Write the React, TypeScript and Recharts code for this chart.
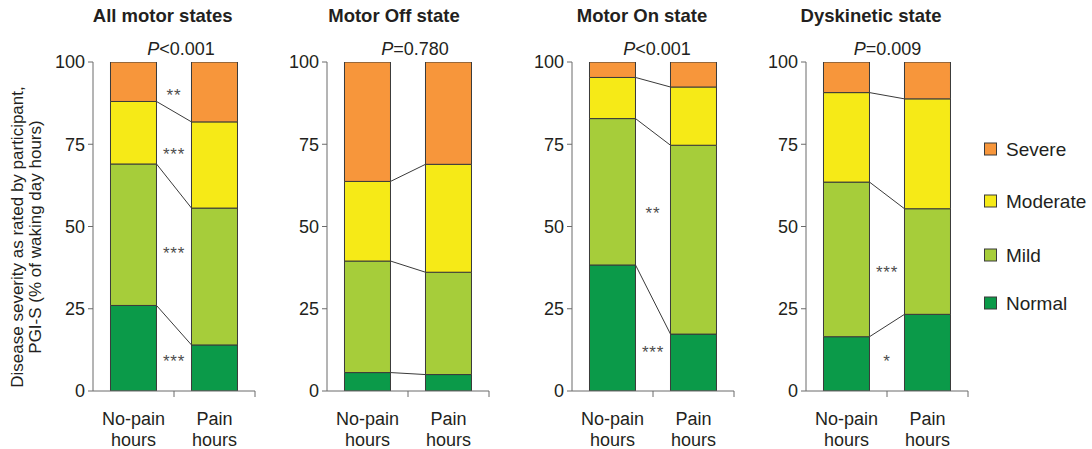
import React from "react";
import { BarChart, Bar, XAxis, YAxis, ReferenceLine, ReferenceDot } from "recharts";

const panelTitles = ["All motor states", "Motor Off state", "Motor On state", "Dyskinetic state"];
const pValues = ["<0.001", "=0.780", "<0.001", "=0.009"];
const hourGroups = ["No-pain", "Pain"];
const severityLevels = ["Normal", "Mild", "Moderate", "Severe"];
const legendOrder = ["Severe", "Moderate", "Mild", "Normal"];
const yTicks = [0, 25, 50, 75, 100];

// % of waking day hours, [no-pain, pain] per panel
const normal = [[26, 14], [5.6, 5], [38.3, 17.3], [16.5, 23.3]];
const mild = [[43, 41.6], [33.9, 31.1], [44.5, 57.4], [47, 32.1]];
const moderate = [[19, 26.2], [24.2, 32.8], [12.5, 17.7], [27.2, 33.4]];
const severe = [[12, 18.2], [36.3, 31.1], [4.7, 7.6], [9.3, 11.2]];

// significance stars drawn in the gap between the two bars: [y value, marker]
const significance: [number, string][][] = [
  [[90, "**"], [72, "***"], [42, "***"], [9, "***"]],
  [],
  [[54, "**"], [12, "***"]],
  [[36.3, "***"], [9, "*"]],
];

const COLORS: Record<string, string> = {
  Normal: "#0b9a49",
  Mild: "#a6cd3a",
  Moderate: "#f6ea17",
  Severe: "#f7963b",
};
const SERIES: Record<string, number[][]> = { Normal: normal, Mild: mild, Moderate: moderate, Severe: severe };

const FONT = "'Liberation Sans', Arial, sans-serif";
const TEXT = "#231f20";
const AXIS = "#6b6b6b";
const OUTLINE = "#3a3a3a";
const GAP = 0.216; // barCategoryGap as a share of the band

const CHART_W = 270;
const CHART_H = 449;
const Y_AXIS_W = 93;
const PANEL_LEFT = [0, 234, 479, 713];
const TITLE_X = [162.7, 394, 642, 871];
const P_X = [181, 415, 657, 887.5];

// bottom axis: ticks at band edges, two-line group labels at band centres
const EdgeTick = (props: any) => {
  const { x, y, payload } = props;
  const v = payload.value;
  if (v === 1 || v === 2) {
    return <line x1={x} x2={x} y1={y} y2={y + 6} stroke={AXIS} strokeWidth={1} />;
  }
  const label = hourGroups[Math.floor(v)];
  return (
    <text x={x} y={y} textAnchor="middle" fill={TEXT} fontSize={18} fontFamily={FONT}>
      <tspan x={x} dy={34}>{label}</tspan>
      <tspan x={x} dy={21}>hours</tspan>
    </text>
  );
};

function Panel({ index }: { index: number }) {
  // pos = band centre on the numeric [0, 2] axis
  const rows = hourGroups.map((group, i) => {
    const row: any = { group, pos: i + 0.5 };
    severityLevels.forEach((k) => (row[k] = SERIES[k][index][i]));
    return row;
  });

  // cumulative tops of Normal, Mild, Moderate for the connecting lines
  const tops = [0, 1].map((i) => {
    let s = 0;
    return [normal, mild, moderate].map((arr) => (s += arr[index][i]));
  });

  return (
    <div style={{ position: "absolute", left: PANEL_LEFT[index], top: 0 }}>
      <BarChart
        width={CHART_W}
        height={CHART_H}
        data={rows}
        margin={{ top: 62, right: 15, bottom: 0, left: 0 }}
        barCategoryGap={`${GAP * 100}%`}
      >
        <XAxis dataKey="group" hide height={0} />
        <XAxis
          xAxisId="edge"
          dataKey="pos"
          type="number"
          domain={[0, 2]}
          allowDataOverflow
          ticks={[0.5, 1, 1.5, 2]}
          interval={0}
          height={58}
          tickLine={false}
          tickSize={0}
          tickMargin={0}
          axisLine={{ stroke: AXIS }}
          tick={EdgeTick}
        />
        <YAxis
          domain={[0, 100]}
          allowDataOverflow
          ticks={yTicks}
          interval={0}
          width={Y_AXIS_W}
          tickSize={5}
          tickMargin={3}
          axisLine={{ stroke: AXIS }}
          tickLine={{ stroke: AXIS }}
          tick={{ fill: TEXT, fontSize: 18, fontFamily: FONT }}
        />
        {severityLevels.map((k) => (
          <Bar
            key={k}
            dataKey={k}
            stackId="s"
            fill={COLORS[k]}
            stroke={OUTLINE}
            strokeWidth={1}
            isAnimationActive={false}
          />
        ))}
        {tops[0].map((v, j) => (
          <ReferenceLine
            key={`c${j}`}
            xAxisId="edge"
            segment={[
              { x: 1 - GAP, y: v },
              { x: 1 + GAP, y: tops[1][j] },
            ]}
            stroke={OUTLINE}
            strokeWidth={1}
          />
        ))}
        {significance[index].map(([y, mark], j) => (
          <ReferenceDot
            key={`s${j}`}
            xAxisId="edge"
            x={1}
            y={y}
            r={1}
            fill="none"
            stroke="none"
            label={{
              value: mark,
              position: "center",
              fill: "#4d4d4d",
              fontSize: 17,
              letterSpacing: 0.8,
              fontFamily: FONT,
            }}
          />
        ))}
      </BarChart>
    </div>
  );
}

export default function App() {
  return (
    <div
      style={{
        position: "absolute",
        left: 0,
        top: 0,
        width: 1092,
        height: 449,
        background: "#fff",
        fontFamily: FONT,
      }}
    >
      {panelTitles.map((_, i) => (
        <Panel key={i} index={i} />
      ))}
      <svg
        width={1092}
        height={449}
        style={{ position: "absolute", left: 0, top: 0, pointerEvents: "none" }}
      >
        {panelTitles.map((t, i) => (
          <text key={t} x={TITLE_X[i]} y={22} textAnchor="middle" fontSize={18.5} fontWeight="bold" fill={TEXT} fontFamily={FONT}>
            {t}
          </text>
        ))}
        {pValues.map((p, i) => (
          <text key={i} x={P_X[i]} y={55} textAnchor="middle" fontSize={18} fill={TEXT} fontFamily={FONT}>
            <tspan fontStyle="italic">P</tspan>
            {p}
          </text>
        ))}
        <text
          transform="translate(17,237) rotate(-90)"
          textAnchor="middle"
          dominantBaseline="central"
          fontSize={17}
          fill={TEXT}
          fontFamily={FONT}
        >
          Disease severity as rated by participant,
        </text>
        <text
          transform="translate(35,237) rotate(-90)"
          textAnchor="middle"
          dominantBaseline="central"
          fontSize={17}
          fill={TEXT}
          fontFamily={FONT}
        >
          PGI-S (% of waking day hours)
        </text>
        {legendOrder.map((k, i) => {
          const cy = [149, 201, 255, 303][i];
          return (
            <g key={k}>
              <rect x={984.5} y={cy - 6} width={12} height={12} fill={COLORS[k]} stroke={OUTLINE} strokeWidth={1} />
              <text x={1006} y={cy} dominantBaseline="central" fontSize={19} fill={TEXT} fontFamily={FONT}>
                {k}
              </text>
            </g>
          );
        })}
      </svg>
    </div>
  );
}
